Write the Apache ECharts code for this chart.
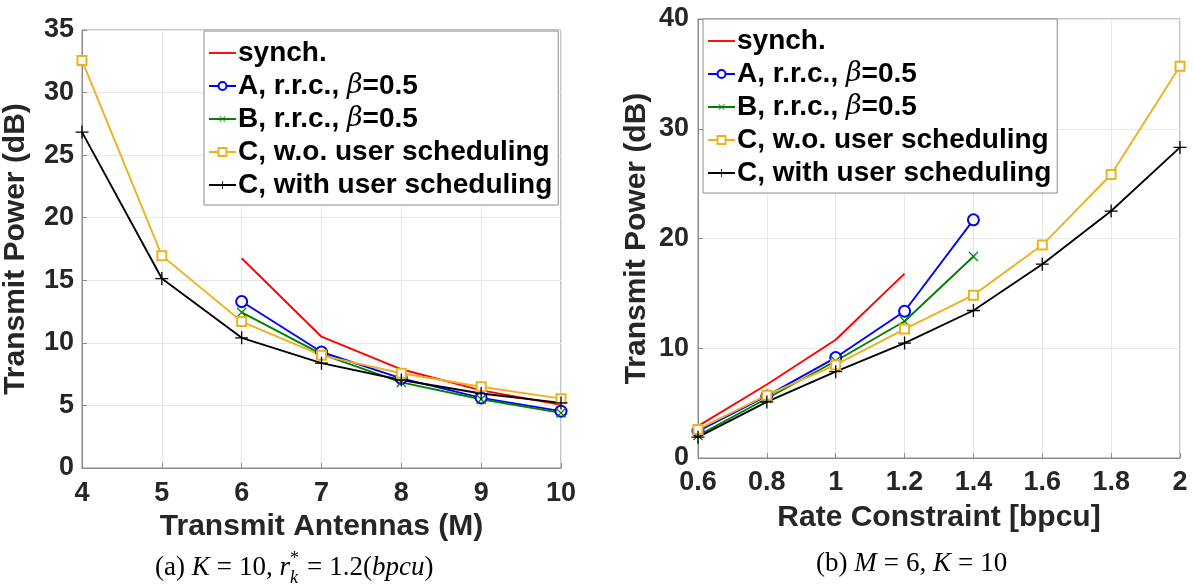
<!DOCTYPE html>
<html>
<head>
<meta charset="utf-8">
<script src="https://cdn.jsdelivr.net/npm/echarts@6/dist/echarts.min.js"></script>
<style>
  html, body { margin: 0; padding: 0; background: #fff; }
  #chart { width: 1193px; height: 584px; }
</style>
</head>
<body>
<div id="chart"></div>
<script>
// left panel: transmit antennas M
var antX = [4, 5, 6, 7, 8, 9, 10];
var antSynch = [null, null, 16.76, 10.49, 7.89, 6.2, 5.05];
var antA = [null, null, 13.3, 9.27, 7.16, 5.6, 4.54];
var antB = [null, null, 12.43, 9.1, 6.84, 5.49, 4.4];
var antCwo = [32.57, 16.97, 11.7, 9.0, 7.57, 6.49, 5.54];
var antCwith = [26.84, 15.14, 10.4, 8.38, 7.03, 5.95, 5.2];

// right panel: rate constraint
var rateX = [0.6, 0.8, 1.0, 1.2, 1.4, 1.6, 1.8, 2.0];
var rateSynch = [2.9, 6.7, 10.77, 16.8];
var rateA = [2.45, 5.66, 9.15, 13.37, 21.7];
var rateB = [2.05, 5.42, 8.84, 12.46, 18.36];
var rateCwo = [2.6, 5.72, 8.48, 11.75, 14.84, 19.4, 25.83, 35.7];
var rateCwith = [1.9, 5.11, 7.87, 10.47, 13.44, 17.66, 22.5, 28.3];

var names = ['synch.', 'A, r.r.c., β=0.5', 'B, r.r.c., β=0.5',
  'C, w.o. user scheduling', 'C, with user scheduling'];

var SANS = '"Liberation Sans", Arial, Helvetica, sans-serif';
var SERIF = '"Liberation Serif", "Times New Roman", serif';
var PLUS = 'path://M9,0H11V9H20V11H11V20H9V11H0V9H9Z';

function pairs(xs, ys) {
  var out = [];
  for (var i = 0; i < ys.length; i++) {
    if (ys[i] != null) out.push([xs[i], ys[i]]);
  }
  return out;
}

var styles = [
  { color: '#ff0000', symbol: 'none' },
  { color: '#0000ff', symbol: 'emptyCircle', symbolSize: 11 },
  { color: '#008000', symbol: PLUS, symbolSize: 13, symbolRotate: 45 },
  { color: '#edb120', symbol: 'emptyRect', symbolSize: 9 },
  { color: '#000000', symbol: PLUS, symbolSize: 13 }
];

function mkSeries(idx, sets, xs) {
  return sets.map(function (ys, i) {
    var st = styles[i];
    var empty = st.symbol === 'emptyCircle' || st.symbol === 'emptyRect';
    return {
      name: names[i],
      type: 'line',
      xAxisIndex: idx,
      yAxisIndex: idx,
      data: pairs(xs, ys),
      symbol: st.symbol,
      symbolSize: st.symbolSize || 0,
      symbolRotate: st.symbolRotate || 0,
      showSymbol: st.symbol !== 'none',
      lineStyle: { color: st.color, width: 1.9 },
      itemStyle: {
        color: st.color,
        borderColor: st.color,
        borderWidth: empty ? 1.7 : 0
      },
      emphasis: { disabled: true },
      animation: false
    };
  });
}

function xAx(idx, min, max, interval, name, gap, margin, fmt) {
  return {
    type: 'value', gridIndex: idx, min: min, max: max, interval: interval,
    name: name, nameLocation: 'middle', nameGap: gap,
    nameTextStyle: { fontFamily: SANS, fontWeight: 'bold', fontSize: 30, color: '#262626' },
    axisLine: { lineStyle: { color: '#8c8c8c', width: 1 } },
    axisTick: { show: true, inside: true, length: 5, lineStyle: { color: '#8c8c8c' } },
    axisLabel: { fontFamily: SANS, fontWeight: 'bold', fontSize: 27, color: '#262626', margin: margin,
      formatter: fmt },
    splitLine: { show: true, lineStyle: { color: '#e8e8e8', width: 1 } }
  };
}

function yAx(idx, max, interval, gap, margin) {
  return {
    type: 'value', gridIndex: idx, min: 0, max: max, interval: interval,
    name: 'Transmit Power (dB)', nameLocation: 'middle', nameGap: gap,
    nameTextStyle: { fontFamily: SANS, fontWeight: 'bold', fontSize: 30, color: '#262626' },
    axisLine: { show: true, lineStyle: { color: '#8c8c8c', width: 1 } },
    axisTick: { show: true, inside: true, length: 5, lineStyle: { color: '#8c8c8c' } },
    axisLabel: { fontFamily: SANS, fontWeight: 'bold', fontSize: 27, color: '#262626', margin: margin },
    splitLine: { show: true, lineStyle: { color: '#e8e8e8', width: 1 } }
  };
}

function mkLegend(left, top) {
  var data = names.map(function (n, i) {
    if (i === 0) return { name: n, icon: 'path://M0,0H100V7H0Z' };
    return { name: n };
  });
  return {
    left: left, top: top, orient: 'vertical',
    data: data,
    backgroundColor: '#ffffff',
    borderColor: '#8c8c8c', borderWidth: 1,
    padding: [8, 6, 6, 4],
    itemWidth: 27, itemHeight: 10, itemGap: 5,
    selectedMode: false,
    formatter: function (n) {
      if (n.indexOf('β') >= 0) {
        var p = n.split('β');
        return '{b|' + p[0] + '}{g|β}{b|' + p[1] + '}';
      }
      return '{b|' + n + '}';
    },
    textStyle: {
      color: '#000', padding: [0, 0, 0, -3],
      rich: {
        b: { fontFamily: SANS, fontWeight: 'bold', fontSize: 28, lineHeight: 30, color: '#000' },
        g: { fontFamily: '"DejaVu Serif", serif', fontStyle: 'italic', fontWeight: 'normal',
          fontSize: 27, lineHeight: 30, color: '#000' }
      }
    }
  };
}

function caption(x, text) {
  return {
    type: 'text', left: x, top: 550,
    style: { text: text, rich: capRich, fill: '#000' }
  };
}

var capRich = {
  n: { fontFamily: SERIF, fontSize: 27, lineHeight: 32, fill: '#000' },
  e: { fontFamily: SERIF, fontSize: 27, lineHeight: 32, fill: '#000', padding: [0, 7, 0, 7] },
  i: { fontFamily: SERIF, fontSize: 27, fontStyle: 'italic', lineHeight: 32, fill: '#000' },
  sub: { fontFamily: SERIF, fontSize: 18, fontStyle: 'italic', lineHeight: 32, fill: '#000',
    verticalAlign: 'bottom', width: 0, padding: [0, 0, -3, 0] },
  sup: { fontFamily: SERIF, fontSize: 18, lineHeight: 32, fill: '#000',
    verticalAlign: 'top', width: 10, padding: [-2, 0, 0, 0] }
};

var chart = echarts.init(document.getElementById('chart'));
chart.setOption({
  backgroundColor: '#ffffff',
  animation: false,
  grid: [
    { left: 82, top: 30, width: 479, height: 438, show: true, borderColor: '#8c8c8c', borderWidth: 1 },
    { left: 698, top: 19, width: 482, height: 439, show: true, borderColor: '#8c8c8c', borderWidth: 1 }
  ],
  xAxis: [
    xAx(0, 4, 10, 1, 'Transmit Antennas (M)', 35, 12),
    xAx(1, 0.6, 2, 0.2, 'Rate Constraint [bpcu]', 45, 11, function (v) { return String(+v.toFixed(1)); })
  ],
  yAxis: [yAx(0, 35, 5, 51, 8), yAx(1, 40, 10, 46, 9)],
  legend: [mkLegend(204, 31), mkLegend(703, 19)],
  series: mkSeries(0, [antSynch, antA, antB, antCwo, antCwith], antX)
    .concat(mkSeries(1, [rateSynch, rateA, rateB, rateCwo, rateCwith], rateX)),
  graphic: [
    caption(155, '{n|(a) }{i|K}{e|=}{n|10, }{i|r}{sub|k}{sup|*}{e|=}{n|1.2(}{i|bpcu}{n|)}'),
    caption(816, '{n|(b) }{i|M}{e|=}{n|6, }{i|K}{e|=}{n|10}')
  ]
});
</script>
</body>
</html>
